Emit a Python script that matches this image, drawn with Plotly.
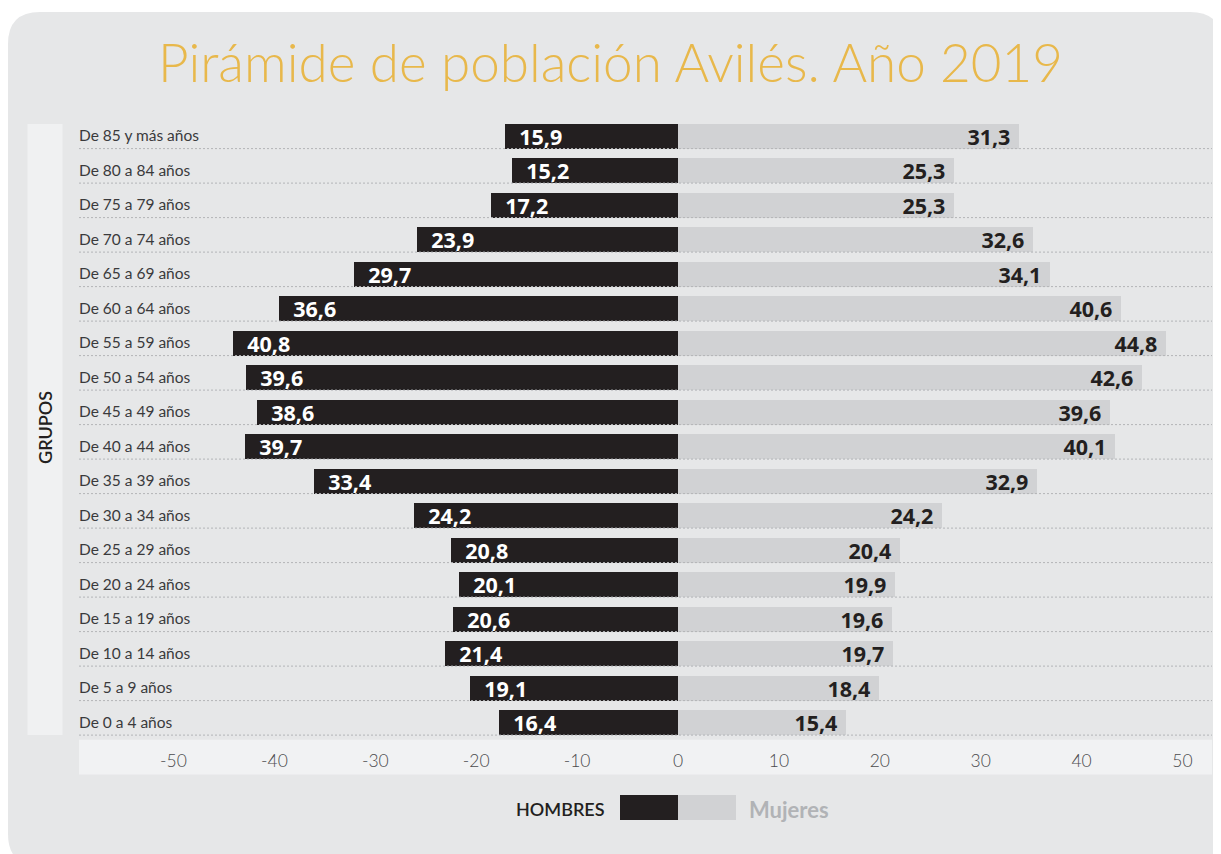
import plotly.graph_objects as go

# ---------------- data ----------------
grupos = ["De 85 y más años", "De 80 a 84 años", "De 75 a 79 años", "De 70 a 74 años",
          "De 65 a 69 años", "De 60 a 64 años", "De 55 a 59 años", "De 50 a 54 años",
          "De 45 a 49 años", "De 40 a 44 años", "De 35 a 39 años", "De 30 a 34 años",
          "De 25 a 29 años", "De 20 a 24 años", "De 15 a 19 años", "De 10 a 14 años",
          "De 5 a 9 años", "De 0 a 4 años"]
hombres = [15.9, 15.2, 17.2, 23.9, 29.7, 36.6, 40.8, 39.6, 38.6, 39.7, 33.4, 24.2,
           20.8, 20.1, 20.6, 21.4, 19.1, 16.4]
mujeres = [31.3, 25.3, 25.3, 32.6, 34.1, 40.6, 44.8, 42.6, 39.6, 40.1, 32.9, 24.2,
           20.4, 19.9, 19.6, 19.7, 18.4, 15.4]
tick_vals = [-50, -40, -30, -20, -10, 0, 10, 20, 30, 40, 50]
tick_text = ["-50", "-40", "-30", "-20", "-10", "0", "10", "20", "30", "40", "50"]

title = "Pirámide de población Avilés. Año 2019"
label_h = "HOMBRES"
label_m = "Mujeres"
label_y = "GRUPOS"

# ---------------- geometry / style ----------------
OFF = 8                     # page body margin
FW, FH = 1221 - OFF, 854 - OFF


def s(px):                  # screen px -> figure px
    return px - OFF


PL, PR, PT, PB = s(79), s(1212), s(119.1), s(740)
PW, PH = PR - PL, PB - PT
ZERO_PX = s(678)
BAR_K = 10.9     # px per unit for bars
TICK_K = 10.09   # px per unit for tick axis
BAR_W = 0.716

DARK = "#231f20"
LIGHT = "#d1d2d4"
CARD = "#e6e7e8"
PALE = "#f1f2f3"
GOLD = "#e8b84b"
NB = "\u00a0"


def xp(px):     # screen px -> paper
    return (s(px) - PL) / PW


def yp(py):
    return (PB - s(py)) / PH


def fmt(v):
    return f"{v:.1f}".replace(".", ",")


fig = go.Figure()

fig.add_trace(go.Bar(
    y=grupos, x=[-v for v in hombres], orientation="h", base=0,
    marker=dict(color=DARK, line=dict(width=0)), width=BAR_W,
    text=[NB + NB + fmt(v) for v in hombres], textposition="inside",
    insidetextanchor="end", textangle=0, constraintext="none",
    textfont=dict(family="Open Sans", size=21.5, color="white", weight=700),
    hoverinfo="skip", showlegend=False, cliponaxis=False,
))
fig.add_trace(go.Bar(
    y=grupos, x=mujeres, orientation="h", base=0,
    marker=dict(color=LIGHT, line=dict(width=0)), width=BAR_W,
    text=[fmt(v) + NB for v in mujeres], textposition="inside",
    insidetextanchor="end", textangle=0, constraintext="none",
    textfont=dict(family="Open Sans", size=21.5, color=DARK, weight=700),
    hoverinfo="skip", showlegend=False, cliponaxis=False,
))
# invisible trace to carry the tick axis
fig.add_trace(go.Scatter(x=[tick_vals[0], tick_vals[-1]], y=[grupos[0], grupos[0]],
                         xaxis="x2", mode="lines", line=dict(width=0),
                         hoverinfo="skip", showlegend=False))

shapes = []


def P(sx, sy):  # screen px -> pixel offset from plot top-left (y up)
    return f"{s(sx) - PL:.1f},{PT - s(sy):.1f}"


x0c, x1c, y0c, y1c, r = 8, 1222, 12, 866, 32
card_path = (f"M{P(x0c + r, y0c)} L{P(x1c - r, y0c)} Q{P(x1c, y0c)} {P(x1c, y0c + r)} "
             f"L{P(x1c, y1c - r)} Q{P(x1c, y1c)} {P(x1c - r, y1c)} "
             f"L{P(x0c + r, y1c)} Q{P(x0c, y1c)} {P(x0c, y1c - r)} "
             f"L{P(x0c, y0c + r)} Q{P(x0c, y0c)} {P(x0c + r, y0c)} Z")
shapes.append(dict(type="path", xref="paper", yref="paper", xsizemode="pixel",
                   ysizemode="pixel", xanchor=0, yanchor=1, path=card_path,
                   fillcolor=CARD, line=dict(width=0), layer="below"))
# left strip
shapes.append(dict(type="rect", xref="paper", yref="paper", x0=xp(27.5), x1=xp(62.5),
                   y0=yp(735), y1=yp(124), fillcolor="#f0f1f2", line=dict(width=0),
                   layer="below"))
# axis band
shapes.append(dict(type="rect", xref="paper", yref="paper", x0=0, x1=1,
                   y0=yp(774.5), y1=yp(739.7), fillcolor=PALE, line=dict(width=0),
                   layer="below"))
# dotted row separators
for i in range(len(grupos)):
    shapes.append(dict(type="line", xref="paper", yref="y", x0=0, x1=1,
                       y0=i + BAR_W / 2, y1=i + BAR_W / 2,
                       line=dict(color="#b3b4b7", width=1, dash="2px,2px"),
                       layer="above"))
# legend swatches
shapes.append(dict(type="rect", xref="paper", yref="paper", x0=xp(620), x1=xp(678),
                   y0=yp(820), y1=yp(795), fillcolor=DARK, line=dict(width=0)))
shapes.append(dict(type="rect", xref="paper", yref="paper", x0=xp(678), x1=xp(736),
                   y0=yp(820), y1=yp(795), fillcolor=LIGHT, line=dict(width=0)))

annotations = [
    dict(text=title, xref="paper", yref="paper", x=xp(610), y=yp(62),
         showarrow=False, xanchor="center", yanchor="middle",
         font=dict(family="Lato", size=53, color=GOLD, weight=300)),
    dict(text=label_y, xref="paper", yref="paper", x=xp(45), y=yp(428),
         showarrow=False, textangle=-90, xanchor="center", yanchor="middle",
         font=dict(family="Lato", size=18, color=DARK, weight=600)),
    dict(text=label_h, xref="paper", yref="paper", x=xp(607), y=yp(809),
         showarrow=False, xanchor="right", yanchor="middle",
         font=dict(family="Lato", size=18, color=DARK, weight=600)),
    dict(text=label_m, xref="paper", yref="paper", x=xp(747), y=yp(809),
         showarrow=False, xanchor="left", yanchor="middle",
         font=dict(family="Lato", size=22, color="#b1b3b6", weight=700)),
]
# category labels, left-aligned inside the plot area
for g in grupos:
    annotations.append(dict(text=g, xref="paper", yref="y", x=0, y=g,
                            xanchor="left", yanchor="middle", showarrow=False,
                            xshift=-2, yshift=1,
                            font=dict(family="Lato", size=15.5, color="#3a3a3c")))

fig.update_layout(
    width=FW, height=FH,
    margin=dict(l=PL, r=FW - PR, t=PT, b=FH - PB, pad=0),
    paper_bgcolor="white", plot_bgcolor="rgba(0,0,0,0)",
    barmode="overlay", bargap=0,
    shapes=shapes, annotations=annotations,
    xaxis=dict(range=[(PL - ZERO_PX) / BAR_K, (PR - ZERO_PX) / BAR_K],
               showticklabels=False, showgrid=False, zeroline=False,
               showline=False, ticks="", fixedrange=True),
    xaxis2=dict(overlaying="x", anchor="y", side="bottom",
                range=[(PL - ZERO_PX) / TICK_K, (PR - ZERO_PX) / TICK_K],
                tickmode="array", tickvals=tick_vals, ticktext=tick_text,
                showgrid=False, zeroline=False, showline=False, ticks="",
                ticklabelstandoff=8,
                tickfont=dict(family="Lato", size=17.5, color="#4a4a4c", weight=300)),
    yaxis=dict(categoryorder="array", categoryarray=grupos,
               range=[len(grupos) - 0.5, -0.5], showticklabels=False,
               showgrid=False, zeroline=False, showline=False, ticks=""),
    font=dict(family="Lato"),
)

fig.write_html("out.html")
